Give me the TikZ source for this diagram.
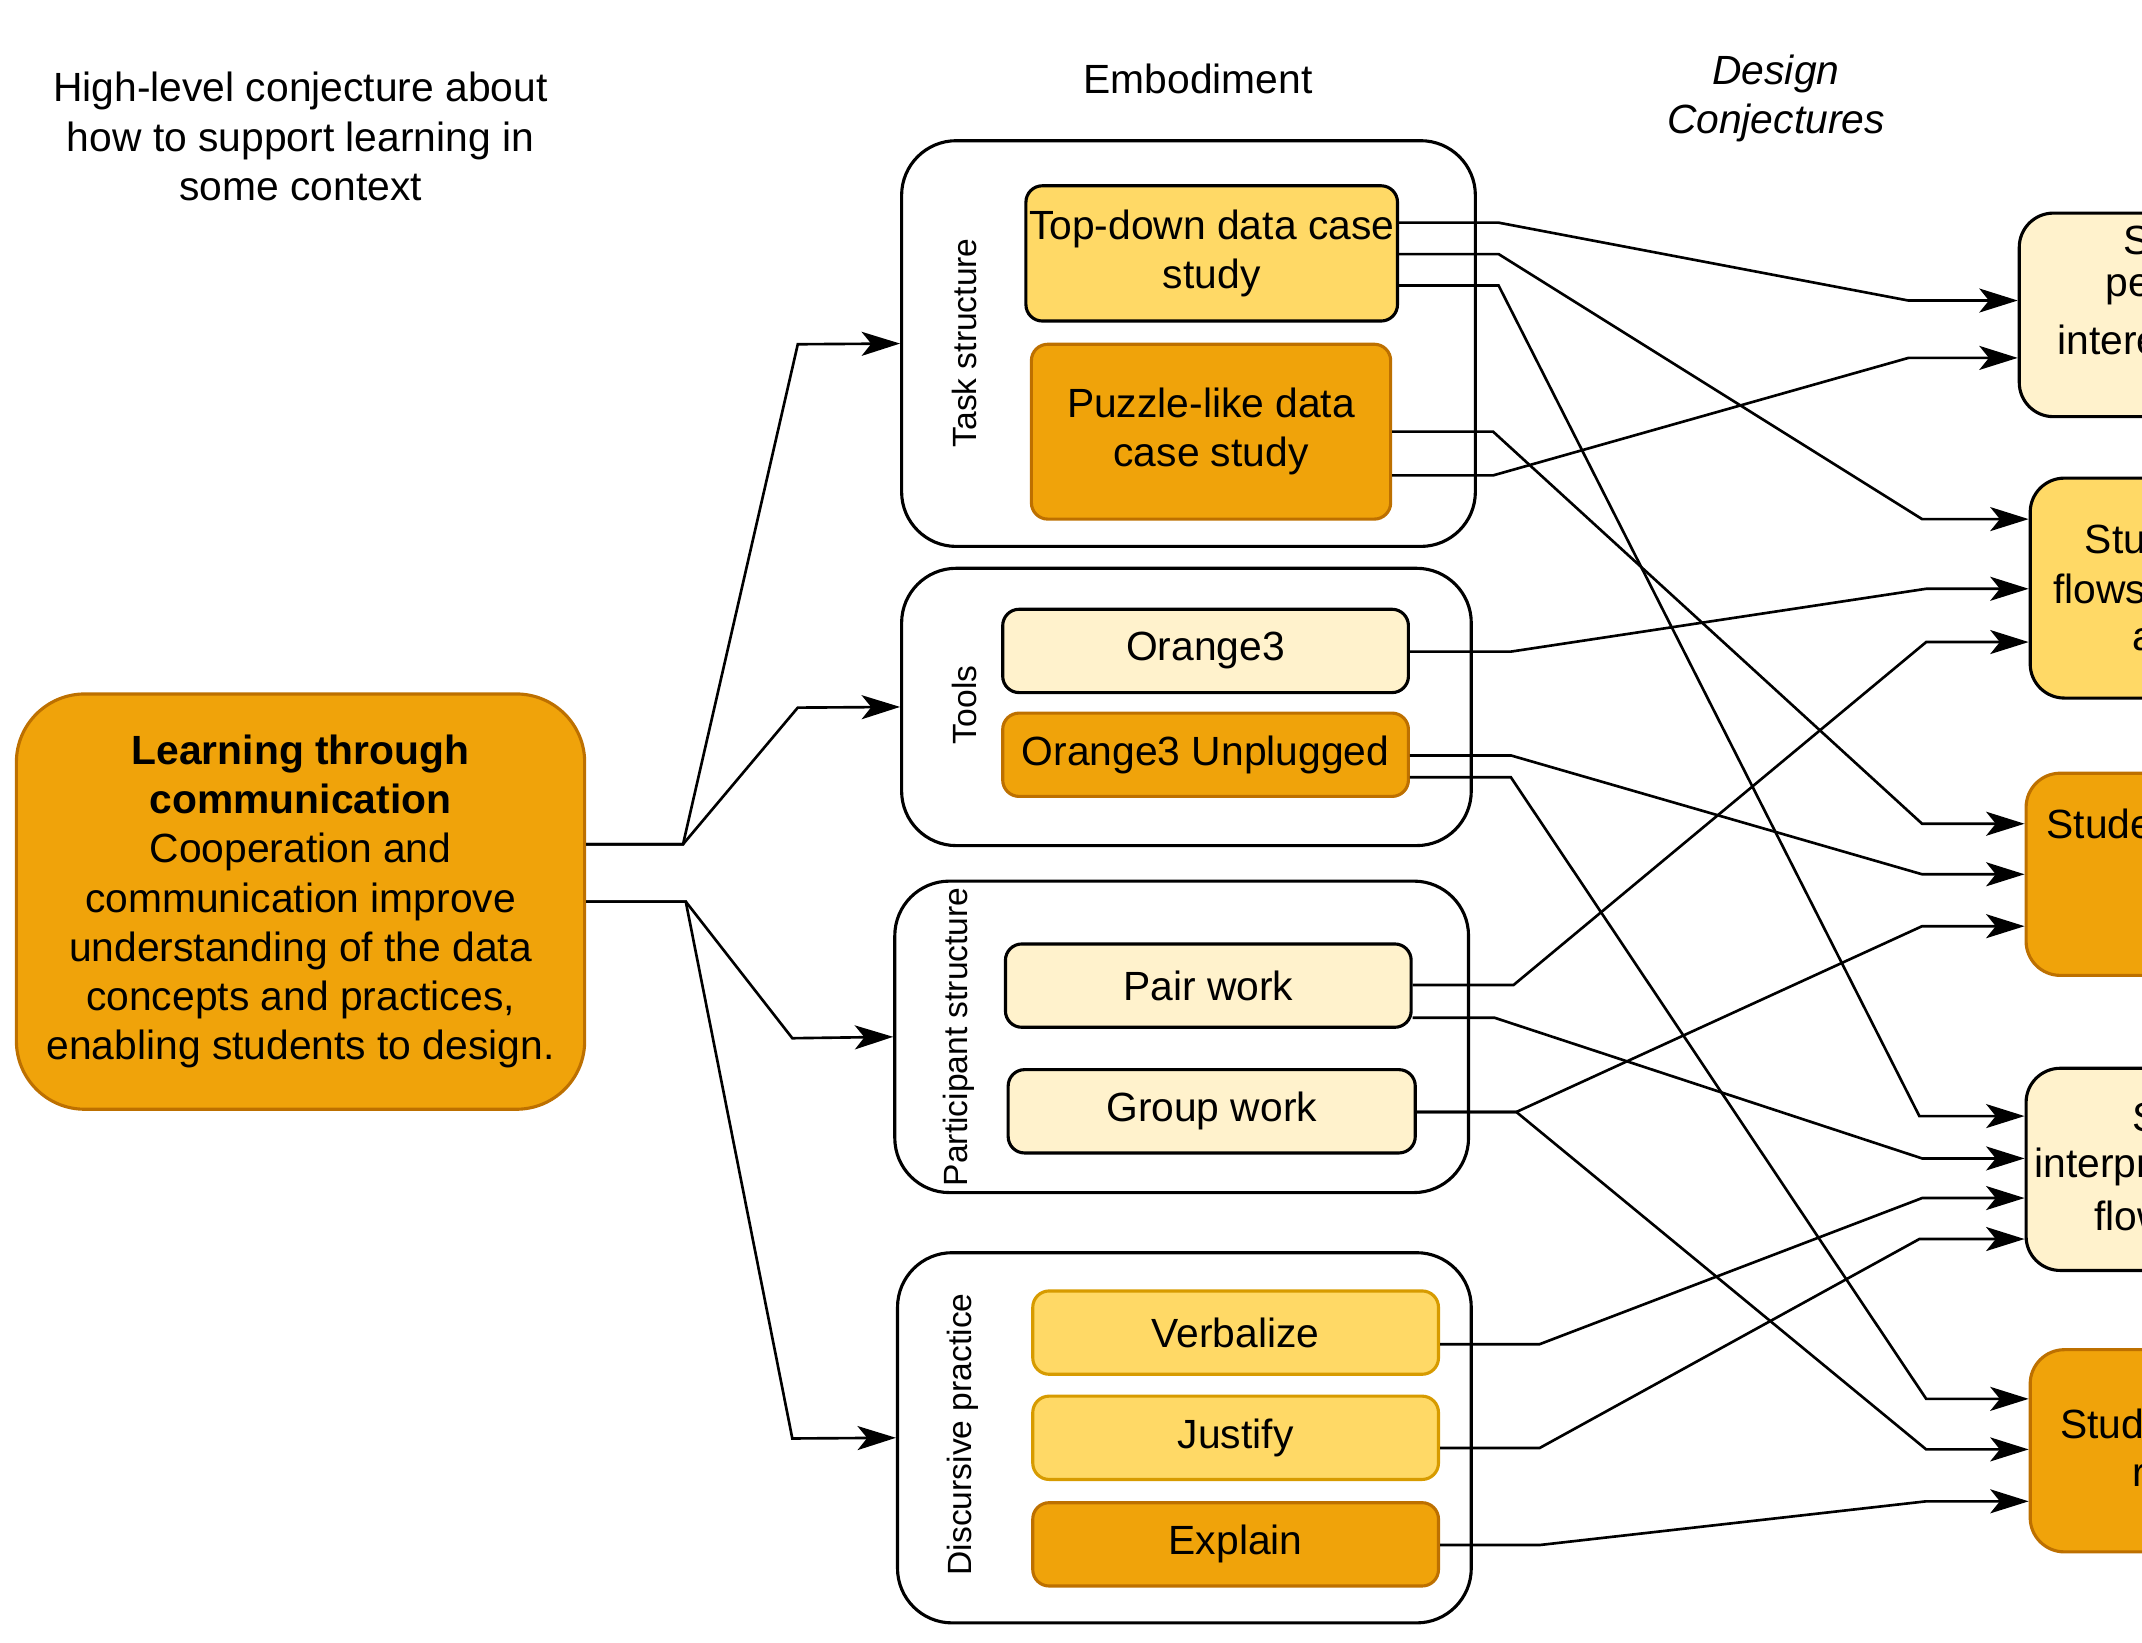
\documentclass[tikz,border=0pt]{standalone}
\usepackage{fontspec}
\setmainfont{Liberation Sans}
\usetikzlibrary{arrows.meta}
\definecolor{lightbox}{HTML}{FFF2CC}
\definecolor{midbox}{HTML}{FFD966}
\definecolor{darkbox}{HTML}{F0A30A}
\definecolor{darkline}{HTML}{BD7000}
\definecolor{midline}{HTML}{D79B00}
\begin{document}
\begin{tikzpicture}[x=0.02cm, y=-0.02cm, line width=1.3pt,
    every node/.style={font=\fontsize{17}{20.5}\selectfont, align=center},
    group_style/.style={draw=black, rounded corners=0.8cm, inner sep=0pt},
    item_style/.style={draw=black, rounded corners=0.24cm, inner sep=0pt},
    light_item/.style={item_style, fill=lightbox},
    mid_item/.style={item_style, fill=midbox},
    mid_item_o/.style={item_style, fill=midbox, draw=midline},
    dark_item/.style={item_style, fill=darkbox, draw=darkline},
    side_label/.style={rotate=90, font=\fontsize{14}{17}\selectfont},
    cut_text/.style={anchor=west, inner sep=0pt},
    edge_style/.style={draw=black, line width=1.1pt, -{Stealth[length=16pt,width=10pt,inset=4pt]}}]
  \useasboundingbox (0,0) rectangle (1568,1202);
  \begin{scope}
  \clip (0,0) rectangle (1568,1202);
  % headings
  \node (intro) at (220,100) {High-level conjecture about\\how to support learning in\\some context};
  \node (embody) at (877,58) {Embodiment};
  \node[font=\itshape\fontsize{17}{20.5}\selectfont] (design) at (1300,72) {Design\\Conjectures};

  % left box
  \node[dark_item, rounded corners=1cm, minimum width=416*0.02cm, minimum height=304*0.02cm] (learn) at (220,660) {};
  \node at (220,660) {\textbf{Learning through}\\\textbf{communication}\\Cooperation and\\communication improve\\understanding of the data\\concepts and practices,\\enabling students to design.};

  % groups
  \node[group_style, minimum width=420*0.02cm, minimum height=297*0.02cm] (task) at (870,251.5) {};
  \node[group_style, minimum width=417*0.02cm, minimum height=203*0.02cm] (tools) at (868.5,517.5) {};
  \node[group_style, minimum width=420*0.02cm, minimum height=228*0.02cm] (part) at (865,759) {};
  \node[group_style, minimum width=420*0.02cm, minimum height=271*0.02cm] (disc) at (867,1052.5) {};
  \node[side_label] (tasklab) at (706,251) {Task structure};
  \node[side_label] (toolslab) at (706,516) {Tools};
  \node[side_label] (partlab) at (702,759) {Participant structure};
  \node[side_label] (disclab) at (705,1050) {Discursive practice};

  % items
  \node[mid_item, minimum width=272*0.02cm, minimum height=99*0.02cm] (topdown) at (887,185.5) {Top-down data case\\study};
  \node[dark_item, minimum width=263*0.02cm, minimum height=128*0.02cm] (puzzle) at (886.5,316) {Puzzle-like data\\case study};
  \node[light_item, minimum width=297*0.02cm, minimum height=61*0.02cm] (orange) at (882.5,476.5) {Orange3};
  \node[dark_item, minimum width=297*0.02cm, minimum height=61*0.02cm] (unplug) at (882.5,552.5) {Orange3 Unplugged};
  \node[light_item, minimum width=297*0.02cm, minimum height=61*0.02cm] (pair) at (884.5,721.5) {Pair work};
  \node[light_item, minimum width=298*0.02cm, minimum height=61*0.02cm] (group) at (887,813.5) {Group work};
  \node[mid_item_o, minimum width=297*0.02cm, minimum height=61*0.02cm] (verb) at (904.5,975.5) {Verbalize};
  \node[mid_item_o, minimum width=297*0.02cm, minimum height=61*0.02cm] (just) at (904.5,1052.5) {Justify};
  \node[dark_item, minimum width=297*0.02cm, minimum height=61*0.02cm] (expl) at (904.5,1130.5) {Explain};

  % conjectures
  \node[light_item, rounded corners=0.5cm, minimum width=300*0.02cm, minimum height=149*0.02cm, anchor=west] (conjA) at (1477,230.5) {};
  \node[mid_item, rounded corners=0.5cm, minimum width=300*0.02cm, minimum height=161*0.02cm, anchor=west] (conjB) at (1485,430.5) {};
  \node[dark_item, rounded corners=0.5cm, minimum width=300*0.02cm, minimum height=148*0.02cm, anchor=west] (conjC) at (1482,640) {};
  \node[light_item, rounded corners=0.5cm, minimum width=300*0.02cm, minimum height=148*0.02cm, anchor=west] (conjD) at (1482,856) {};
  \node[dark_item, rounded corners=0.5cm, minimum width=300*0.02cm, minimum height=148*0.02cm, anchor=west] (conjE) at (1485,1062) {};
  \node[cut_text] (tA1) at (1553,176) {S};
  \node[cut_text] (tA2) at (1540,212) {pe};
  \node[cut_text] (tA3) at (1505,249) {intere};
  \node[cut_text] (tB1) at (1525,395) {Stu};
  \node[cut_text] (tB2) at (1502,431) {flows};
  \node[cut_text] (tB3) at (1560,468) {a};
  \node[cut_text] (tC1) at (1497,603) {Stude};
  \node[cut_text] (tD1) at (1560,818) {S};
  \node[cut_text] (tD2) at (1488,854) {interpr};
  \node[cut_text] (tD3) at (1532,890) {flow};
  \node[cut_text] (tE1) at (1507,1042) {Stud};
  \node[cut_text] (tE2) at (1560,1080) {r};

  % from the left box
  \draw[edge_style] (learn.east |- 0,618) -- (500,618) -- (584,252) -- (task.west);
  \draw[edge_style] (learn.east |- 0,618) -- (500,618) -- (584,518) -- (tools.west);
  \draw[edge_style] (learn.east |- 0,660) -- (502,660) -- (580,760) -- (part.west);
  \draw[edge_style] (learn.east |- 0,660) -- (502,660) -- (580,1053) -- (disc.west);

  % to the conjectures
  \draw[edge_style] (topdown.east |- 0,163) -- (1097,163) -- (1397,220) -- (conjA.west |- 0,220);
  \draw[edge_style] (topdown.east |- 0,186) -- (1097,186) -- (1407,380) -- (conjB.west |- 0,380);
  \draw[edge_style] (topdown.east |- 0,209) -- (1097,209) -- (1405,817) -- (conjD.west |- 0,817);
  \draw[edge_style] (puzzle.east |- 0,316) -- (1093,316) -- (1407,603) -- (conjC.west |- 0,603);
  \draw[edge_style] (puzzle.east |- 0,348) -- (1093,348) -- (1397,262) -- (conjA.west |- 0,262);
  \draw[edge_style] (orange.east |- 0,477) -- (1106,477) -- (1410,431) -- (conjB.west |- 0,431);
  \draw[edge_style] (unplug.east |- 0,553) -- (1106,553) -- (1407,640) -- (conjC.west |- 0,640);
  \draw[edge_style] (unplug.east |- 0,569) -- (1106,569) -- (1410,1024) -- (conjE.west |- 0,1024);
  \draw[edge_style] (pair.east |- 0,721) -- (1108,721) -- (1410,470) -- (conjB.west |- 0,470);
  \draw[edge_style] (pair.east |- 0,745) -- (1094,745) -- (1407,848) -- (conjD.west |- 0,848);
  \draw[edge_style] (group.east |- 0,814) -- (1110,814) -- (1407,678) -- (conjC.west |- 0,678);
  \draw[edge_style] (group.east |- 0,814) -- (1110,814) -- (1410,1061) -- (conjE.west |- 0,1061);
  \draw[edge_style] (verb.east |- 0,984) -- (1127,984) -- (1407,877) -- (conjD.west |- 0,877);
  \draw[edge_style] (just.east |- 0,1060) -- (1127,1060) -- (1405,907) -- (conjD.west |- 0,907);
  \draw[edge_style] (expl.east |- 0,1131) -- (1127,1131) -- (1410,1099) -- (conjE.west |- 0,1099);
  \end{scope}
\end{tikzpicture}
\end{document}
